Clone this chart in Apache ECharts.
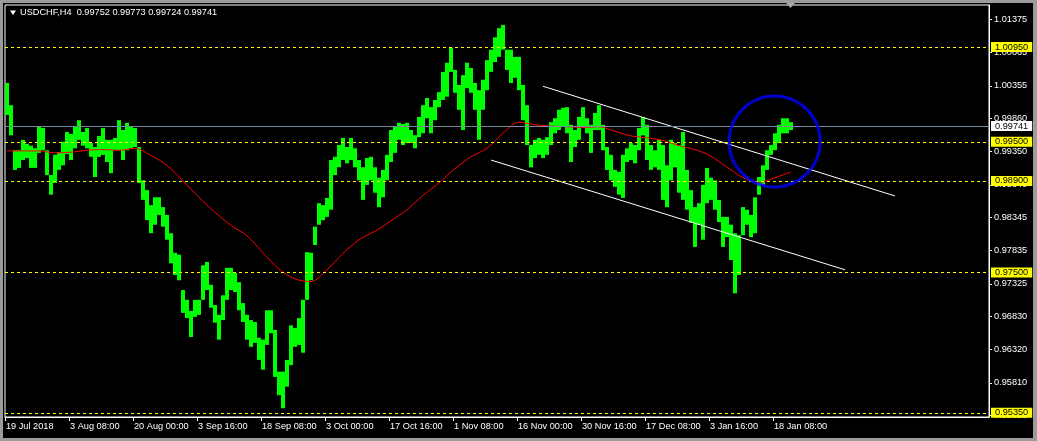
<!DOCTYPE html>
<html><head><meta charset="utf-8">
<script src="https://cdn.jsdelivr.net/npm/echarts@6/dist/echarts.min.js"></script>
<style>
html,body{margin:0;padding:0;background:#000;overflow:hidden}
#c{position:absolute;left:0;top:0;width:1037px;height:441px;background:#000}
.b{position:absolute;background:#9c9c9c;pointer-events:none}
</style></head><body>
<div id="c"></div>
<div class="b" style="left:0;top:0;width:1037px;height:3px"></div>
<div class="b" style="left:0;top:0;width:3px;height:441px"></div>
<div class="b" style="left:1033px;top:0;width:4px;height:441px"></div>
<div class="b" style="left:0;top:438px;width:1037px;height:3px"></div>
<script>
const FONT = '"Liberation Sans", Arial, sans-serif';
const titleText = 'USDCHF,H4  0.99752 0.99773 0.99724 0.99741';

// High / low of each bar group (H4)
const barHigh = [
1.0040,1.0006,0.9937,0.9937,0.9953,0.9947,0.9944,0.9940,0.9974,0.9971,
0.9937,0.9899,0.9930,0.9934,0.9950,0.9965,0.9962,0.9973,0.9983,0.9965,
0.9971,0.9948,0.9942,0.9959,0.9971,0.9953,0.9953,0.9956,0.9983,0.9968,
0.9979,0.9973,0.9971,0.9942,0.9891,0.9876,0.9853,0.9865,0.9865,0.9850,
0.9838,0.9810,0.9780,0.9777,0.9723,0.9708,0.9691,0.9708,0.9708,0.9761,
0.9766,0.9731,0.9700,0.9685,0.9715,0.9757,0.9757,0.9749,0.9735,0.9703,
0.9685,0.9677,0.9674,0.9650,0.9647,0.9692,0.9692,0.9662,0.9598,0.9598,
0.9616,0.9669,0.9665,0.9680,0.9708,0.9781,0.9780,0.9820,0.9856,0.9853,
0.9864,0.9922,0.9927,0.9945,0.9956,0.9942,0.9956,0.9940,0.9922,0.9911,
0.9925,0.9927,0.9911,0.9895,0.9907,0.9930,0.9968,0.9973,0.9979,0.9977,
0.9979,0.9968,0.9960,0.9988,1.0006,1.0017,1.0003,1.0014,1.0026,1.0057,
1.0071,1.0094,1.0060,1.0037,1.0052,1.0071,1.0063,1.0040,1.0029,1.0045,
1.0075,1.0091,1.0110,1.0124,1.0129,1.0091,1.0091,1.0080,1.0080,1.0037,
1.0006,0.9945,0.9953,0.9956,0.9953,0.9957,0.9980,0.9986,0.9999,1.0002,
1.0003,0.9976,0.9968,0.9988,1.0003,0.9986,0.9976,0.9994,1.0006,0.9976,
0.9942,0.9930,0.9907,0.9904,0.9930,0.9940,0.9948,0.9945,0.9971,0.9988,
0.9976,0.9945,0.9937,0.9953,0.9945,0.9914,0.9953,0.9948,0.9945,0.9965,
0.9907,0.9876,0.9850,0.9856,0.9884,0.9910,0.9895,0.9891,0.9861,0.9835,
0.9835,0.9823,0.9810,0.9807,0.9850,0.9846,0.9838,0.9865,0.9896,0.9914,
0.9937,0.9945,0.9963,0.9976,0.9986,0.9986,0.9980
];
const barLow = [
0.9991,0.9960,0.9907,0.9910,0.9922,0.9925,0.9910,0.9910,0.9933,0.9937,
0.9899,0.9869,0.9887,0.9907,0.9914,0.9931,0.9922,0.9940,0.9953,0.9944,
0.9940,0.9927,0.9896,0.9927,0.9930,0.9919,0.9902,0.9937,0.9937,0.9922,
0.9937,0.9940,0.9942,0.9887,0.9861,0.9830,0.9810,0.9823,0.9838,0.9820,
0.9800,0.9764,0.9746,0.9738,0.9688,0.9680,0.9651,0.9682,0.9685,0.9708,
0.9723,0.9696,0.9673,0.9647,0.9677,0.9708,0.9723,0.9720,0.9692,0.9674,
0.9647,0.9636,0.9642,0.9616,0.9601,0.9639,0.9657,0.9590,0.9562,0.9542,
0.9575,0.9608,0.9636,0.9639,0.9627,0.9708,0.9738,0.9792,0.9823,0.9830,
0.9835,0.9846,0.9899,0.9911,0.9922,0.9917,0.9922,0.9911,0.9891,0.9861,
0.9884,0.9891,0.9872,0.9850,0.9865,0.9891,0.9919,0.9933,0.9953,0.9945,
0.9948,0.9948,0.9940,0.9957,0.9963,0.9986,0.9963,0.9983,1.0003,1.0014,
1.0019,1.0057,1.0025,0.9999,0.9968,1.0032,1.0025,0.9999,0.9953,0.9999,
1.0029,1.0057,1.0072,1.0080,1.0091,1.0060,1.0040,1.0048,1.0029,0.9983,
0.9945,0.9911,0.9925,0.9930,0.9925,0.9930,0.9945,0.9963,0.9968,0.9973,
0.9963,0.9919,0.9942,0.9953,0.9971,0.9963,0.9933,0.9968,0.9968,0.9937,
0.9907,0.9891,0.9881,0.9869,0.9864,0.9919,0.9922,0.9917,0.9937,0.9960,
0.9922,0.9907,0.9911,0.9907,0.9861,0.9850,0.9891,0.9911,0.9872,0.9861,
0.9846,0.9826,0.9789,0.9823,0.9800,0.9856,0.9861,0.9846,0.9827,0.9789,
0.9804,0.9769,0.9718,0.9746,0.9807,0.9823,0.9804,0.9810,0.9869,0.9884,
0.9907,0.9930,0.9937,0.9948,0.9963,0.9963,0.9968
];
// Moving average (red), one value every 4 bar groups
const maValues = [
0.9936,0.9936,0.9936,0.9933,0.9934,0.9937,0.9938,0.9937,0.9940,0.9929,
0.9914,0.9890,0.9865,0.9842,0.9822,0.9806,0.9780,0.9755,0.9740,0.9736,
0.9754,0.9779,0.9800,0.9813,0.9829,0.9846,0.9868,0.9887,0.9909,0.9927,
0.9940,0.9963,0.9980,0.9976,0.9974,0.9973,0.9972,0.9973,0.9966,0.9959,
0.9956,0.9952,0.9944,0.9938,0.9928,0.9911,0.9895,0.9888,0.9895,0.9904
];
const yTicks = [1.01375,1.00865,1.00355,0.99860,0.99350,0.98840,0.98345,0.97835,0.97325,0.96830,0.96320,0.95810,0.95315];
const xTickPos = [-0.5,15.5,31.5,47.5,63.5,79.5,95.5,111.5,127.5,143.5,159.5,175.5,191.5];
const xTickLabels = ['19 Jul 2018','3 Aug 08:00','20 Aug 00:00','3 Sep 16:00','18 Sep 08:00','3 Oct 00:00','17 Oct 16:00','1 Nov 08:00','16 Nov 00:00','30 Nov 16:00','17 Dec 08:00','3 Jan 16:00','18 Jan 08:00'];
const levelLines = [1.00950,0.99500,0.98900,0.97500,0.95350];
const bidPrice = 0.99741;
const channelUpper = [[134,1.0035],[222,0.9867]];
const channelLower = [[121,0.9922],[209.5,0.9754]];
const circleCenter = [[191.9,0.99504]];

const bars = barHigh.map((h,i)=>[i,h,barLow[i]]);
const maData = maValues.map((v,k)=>[k*4,v]);

const chart = echarts.init(document.getElementById('c'), null, {renderer:'canvas'});
const markData = levelLines.map(v=>({yAxis:v,lineStyle:{color:'#ffff00',type:[3,3],width:1},label:{backgroundColor:'#ffff00',color:'#000'}}));
markData.push({yAxis:bidPrice,lineStyle:{color:'#778899',type:'solid',width:1},label:{backgroundColor:'#ffffff',color:'#000'}});

chart.setOption({
  animation:false,
  backgroundColor:'#000',
  title:{text:titleText,left:20,top:8,padding:0,textStyle:{color:'#fff',fontSize:9.2,fontWeight:'normal',fontFamily:FONT}},
  graphic:[
    {type:'polygon',shape:{points:[[10,10.5],[16,10.5],[13,15]]},style:{fill:'#fff'}},
    {type:'polygon',shape:{points:[[786,3],[795,3],[790.5,8]]},style:{fill:'#a8a8a8'}}
  ],
  grid:{left:5,right:48,top:5,bottom:24,show:true,borderColor:'#fff',borderWidth:1,backgroundColor:'transparent',containLabel:false,outerBoundsMode:'none'},
  xAxis:{type:'value',min:-0.5,max:245.5,splitLine:{show:false},
    axisLine:{show:true,onZero:false,lineStyle:{color:'#fff'}},
    axisTick:{show:true,length:4,customValues:xTickPos,lineStyle:{color:'#fff'}},
    axisLabel:{customValues:xTickPos,color:'#fff',fontSize:9.2,fontFamily:FONT,align:'left',margin:5,padding:[0,0,0,1],
      formatter:v=>{const i=xTickPos.findIndex(p=>Math.abs(p-v)<1e-6);return i>=0?xTickLabels[i]:'';}}},
  yAxis:{type:'value',position:'right',min:0.95286,max:1.01594,splitLine:{show:false},
    axisLine:{show:true,onZero:false,lineStyle:{color:'#fff'}},
    axisTick:{show:true,length:3,customValues:yTicks,lineStyle:{color:'#fff'}},
    axisLabel:{customValues:yTicks,color:'#fff',fontSize:9.2,fontFamily:FONT,margin:5,formatter:v=>v.toFixed(5)}},
  series:[
    {type:'custom',name:'bars',z:2,data:bars,encode:{x:0,y:[1,2]},
      renderItem:(params,api)=>{
        const x=api.value(0),h=api.value(1),l=api.value(2);
        const p1=api.coord([x,h]),p2=api.coord([x,l]);
        return {type:'rect',shape:{x:p1[0]-2,y:p1[1],width:4,height:Math.max(1,p2[1]-p1[1])},style:{fill:'#00ff00'}};
      }},
    {type:'line',name:'ma',z:3,data:maData,showSymbol:false,smooth:0.3,lineStyle:{color:'#ff0000',width:1},
      markLine:{symbol:['none','none'],silent:true,animation:false,precision:5,
        label:{position:'end',distance:2,fontSize:9.2,fontFamily:FONT,padding:[1,4,0,4],lineHeight:9,formatter:p=>Number(p.value).toFixed(5)},
        data:markData}},
    {type:'line',name:'chanU',z:4,data:channelUpper,showSymbol:false,lineStyle:{color:'#fff',width:1}},
    {type:'line',name:'chanL',z:4,data:channelLower,showSymbol:false,lineStyle:{color:'#fff',width:1}},
    {type:'scatter',name:'circle',z:5,data:circleCenter,symbol:'circle',symbolSize:91,
      itemStyle:{color:'rgba(0,0,0,0)',borderColor:'#0000ff',borderWidth:3}}
  ]
});
</script>
</body></html>
